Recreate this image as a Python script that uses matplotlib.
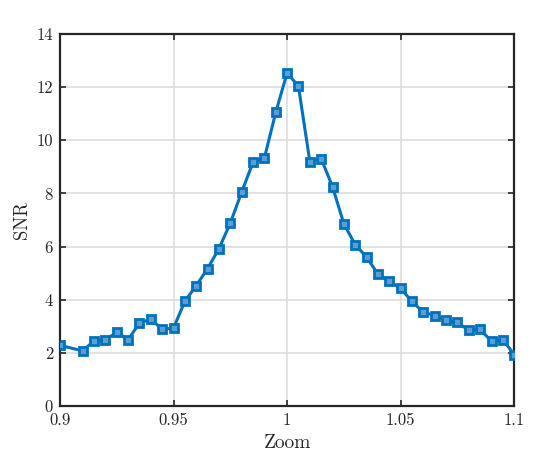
import numpy as np
import matplotlib
matplotlib.use("Agg")
import matplotlib.pyplot as plt

# Données
zoom = [0.900, 0.910, 0.915, 0.920, 0.925, 0.930, 0.935, 0.940, 0.945, 0.950,
        0.955, 0.960, 0.965, 0.970, 0.975, 0.980, 0.985, 0.990, 0.995, 1.000,
        1.005, 1.010, 1.015, 1.020, 1.025, 1.030, 1.035, 1.040, 1.045, 1.050,
        1.055, 1.060, 1.065, 1.070, 1.075, 1.080, 1.085, 1.090, 1.095, 1.100]
snr = [2.28, 2.07, 2.45, 2.47, 2.78, 2.49, 3.12, 3.27, 2.88, 2.93,
       3.94, 4.53, 5.17, 5.92, 6.88, 8.05, 9.17, 9.33, 11.05, 12.54,
       12.03, 9.20, 9.31, 8.25, 6.85, 6.07, 5.60, 4.96, 4.69, 4.42,
       3.93, 3.52, 3.40, 3.22, 3.14, 2.84, 2.88, 2.43, 2.49, 1.93]

x_ticks = [0.9, 0.95, 1.0, 1.05, 1.1]
x_tick_labels = ["0.9", "0.95", "1", "1.05", "1.1"]
y_ticks = [0, 2, 4, 6, 8, 10, 12, 14]

plt.rcParams['font.family'] = 'serif'
plt.rcParams['font.serif'] = ['cmr10']
plt.rcParams['mathtext.fontset'] = 'cm'

fig = plt.figure(figsize=(5.5, 4.66), dpi=100)
ax = fig.add_axes([0.109, 0.129, 0.826, 0.798])

ax.plot(zoom, snr, color='#0072BD', linewidth=2.2, marker='s', markersize=5.5,
        markerfacecolor='#5a9fd4', markeredgewidth=2, zorder=3)

ax.set_xlim(0.9, 1.1)
ax.set_ylim(0, 14)
ax.set_xticks(x_ticks)
ax.set_xticklabels(x_tick_labels)
ax.set_yticks(y_ticks)
ax.grid(True, color='#dcdcdc', linewidth=1.2)
ax.set_axisbelow(True)

ax.tick_params(direction='in', top=True, right=True, length=4, width=1.2,
               labelsize=12, colors='#262626', pad=5)
for s in ax.spines.values():
    s.set_linewidth(1.6)
    s.set_color('#262626')

ax.set_xlabel("Zoom", fontsize=14, color='#262626')
ax.set_ylabel("SNR", fontsize=13.5, color='#262626')

fig.savefig("out.png", dpi=100)
